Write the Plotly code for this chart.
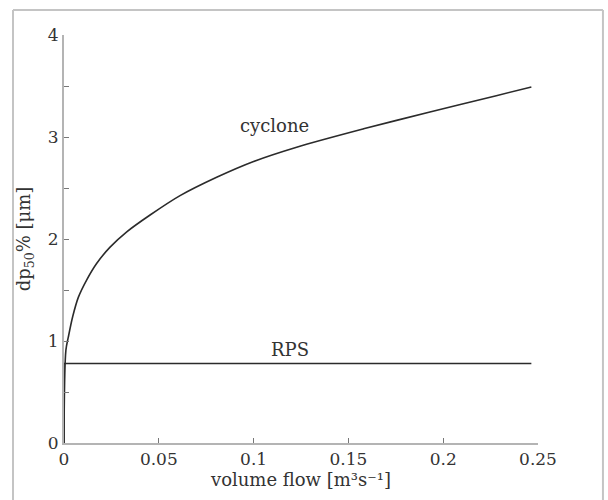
import plotly.graph_objects as go

# data
cyclone_x = [0.0, 0.001, 0.0023, 0.0046, 0.0076, 0.012, 0.0172, 0.0243, 0.0331,
             0.0454, 0.0612, 0.0805, 0.1, 0.1227, 0.158, 0.193, 0.228, 0.2465]
cyclone_y = [0.0, 0.91, 1.04, 1.24, 1.43, 1.60, 1.76, 1.92, 2.07,
             2.235, 2.425, 2.605, 2.76, 2.90, 3.08, 3.245, 3.405, 3.49]
rps_x = [0.0, 0.0, 0.2465]
rps_y = [0.0, 0.78, 0.78]

x_ticks = [0, 0.05, 0.1, 0.15, 0.2, 0.25]
x_ticktext = ["0", "0.05", "0.1", "0.15", "0.2", "0.25"]
y_ticks = [0, 0.5, 1, 1.5, 2, 2.5, 3, 3.5, 4]
y_ticktext = ["0", "", "1", "", "2", "", "3", "", "4"]

FONT = "DejaVu Serif, Liberation Serif, serif"
INK = "#333333"
GREY = "#b4b4b4"

fig = go.Figure()
fig.add_trace(go.Scatter(x=cyclone_x, y=cyclone_y, mode="lines",
                         line=dict(color="#2b2b2b", width=1.6, shape="spline", smoothing=0.9),
                         showlegend=False, hoverinfo="skip"))
fig.add_trace(go.Scatter(x=rps_x, y=rps_y, mode="lines",
                         line=dict(color="#2b2b2b", width=1.6),
                         showlegend=False, hoverinfo="skip"))

fig.add_annotation(x=0.111, y=3.11, text="cyclone", showarrow=False,
                   font=dict(family=FONT, size=18, color=INK))
fig.add_annotation(x=0.119, y=0.92, text="RPS", showarrow=False,
                   font=dict(family=FONT, size=18, color=INK))

# scanned page frame
for (x0, y0, x1, y1) in [(-0.1076, 1.061, 1.137, 1.061),
                         (-0.1076, 1.061, -0.1076, -0.2),
                         (1.137, 1.061, 1.137, -0.2)]:
    fig.add_shape(type="line", xref="paper", yref="paper", x0=x0, y0=y0, x1=x1, y1=y1,
                  line=dict(color="#c4c4c4", width=2))

fig.update_layout(
    width=608, height=500,
    margin=dict(l=64, r=70, t=35, b=57),
    paper_bgcolor="white", plot_bgcolor="white",
    font=dict(family=FONT, size=17, color=INK),
    xaxis=dict(range=[0, 0.25], tickvals=x_ticks, ticktext=x_ticktext,
               ticks="inside", ticklen=5, tickcolor="#777", tickwidth=1,
               showline=True, linecolor=GREY, linewidth=2, showgrid=False,
               zeroline=False, tickfont=dict(family=FONT, size=17, color=INK),
               title=dict(text="volume flow [m³s⁻¹]", standoff=0,
                          font=dict(family=FONT, size=18, color=INK))),
    yaxis=dict(range=[0, 4], tickvals=y_ticks, ticktext=y_ticktext,
               ticks="inside", ticklen=5, tickcolor="#777", tickwidth=1,
               showline=True, linecolor=GREY, linewidth=2, showgrid=False,
               zeroline=False, tickfont=dict(family=FONT, size=17, color=INK),
               title=dict(text="dp<sub>50</sub>% [μm]", standoff=12,
                          font=dict(family=FONT, size=18, color=INK))),
)

fig.write_html("out.html")
